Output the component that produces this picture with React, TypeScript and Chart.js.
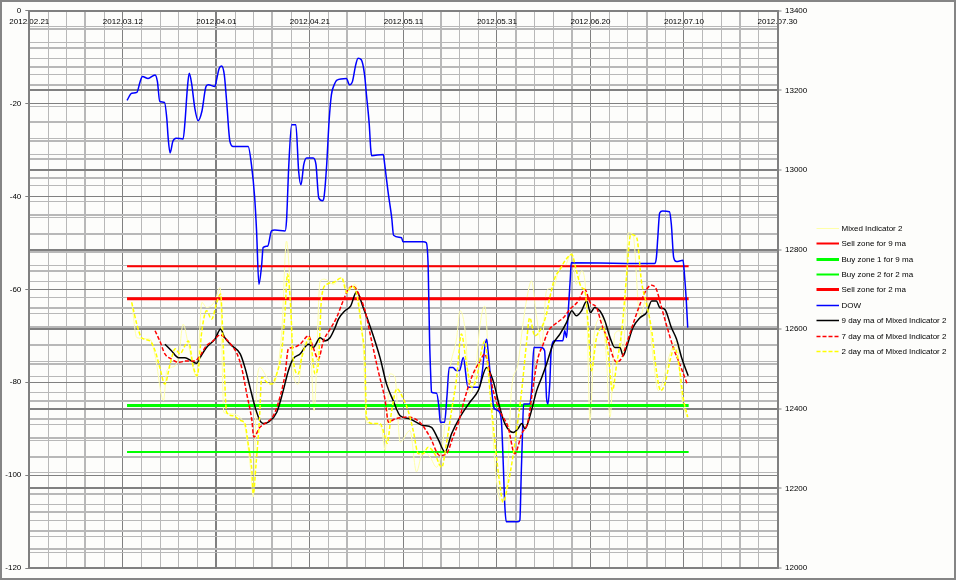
import React, { useEffect, useRef } from 'react';
import { Chart, registerables } from 'chart.js';

Chart.register(...registerables);

// x values are calendar days counted from 2012.02.21
const dateLabels = ['2012.02.21', '2012.03.12', '2012.04.01', '2012.04.21', '2012.05.11', '2012.05.31', '2012.06.20', '2012.07.10', '2012.07.30'];
const thickGridDays = [12, 40, 52, 68, 88, 104, 116, 132, 152];

const sellZone9 = -55;
const sellZone2 = -62;
const buyZone1 = -85;
const buyZone2 = -95;
const zoneDays = [20.9, 141.0];

const mixedDays = [21.9, 23.0, 25.8, 26.9, 28.7, 29.4, 30.4, 31.9, 32.9, 34.0,
  35.8, 36.9, 37.9, 39.7, 40.8, 41.6, 42.9, 45.8, 47.2, 47.9,
  48.6, 49.3, 50.8, 52.2, 54.0, 55.0, 55.7, 56.4, 57.5, 58.6,
  60.0, 60.9, 62.2, 63.2, 65.0, 66.8, 68.2, 69.6, 71.4, 72.1,
  73.5, 75.3, 76.1, 77.1, 78.2, 79.3, 81.4, 82.8, 84.2, 85.7,
  87.1, 88.5, 89.9, 91.4, 92.1, 93.2, 94.2, 95.3, 96.4, 97.4,
  98.5, 99.9, 101.0, 102.1, 103.1, 104.5, 105.3, 106.3, 107.4, 108.5,
  109.6, 110.6, 112.0, 113.5, 114.5, 116.0, 117.0, 118.1, 119.2, 119.9,
  120.9, 122.4, 123.4, 124.2, 125.2, 126.3, 127.0, 128.1, 129.1, 130.6,
  132.0, 133.4, 134.5, 135.5, 137.0, 138.4, 139.5, 140.6];
const mixedValues = [-62.8, -70.4, -70.7, -74.3, -83.9, -77.5, -76.8, -74.7, -67.5, -71.8,
  -78.9, -62.8, -63.9, -62.5, -59.6, -86.5, -86.8, -88.6, -97.5, -104.7,
  -81.8, -76.8, -78.9, -80.4, -68.9, -49.6, -58.2, -77.5, -80.4, -71.8,
  -71.1, -86.1, -58.2, -57.8, -58.9, -57.5, -60.3, -58.9, -72.5, -88.6,
  -88.9, -89.7, -94.7, -78.2, -78.9, -92.9, -90.4, -99.3, -94.7, -96.1,
  -98.3, -92.5, -77.5, -70.4, -64.6, -68.9, -82.5, -78.9, -67.5, -63.6,
  -81.8, -101.1, -105.8, -102.6, -81.8, -76.1, -69.6, -62.5, -58.2, -66.1,
  -71.8, -60.3, -59.6, -55.3, -55.0, -52.1, -58.9, -56.0, -63.9, -88.2,
  -68.9, -66.1, -74.7, -87.5, -69.6, -68.9, -74.7, -47.8, -48.2, -66.1,
  -61.8, -74.7, -81.8, -79.7, -73.9, -71.1, -83.2, -87.5];

const dowDays = [20.9, 21.9, 23.0, 23.7, 24.2, 25.4, 26.9, 27.4, 27.9, 28.9,
  29.4, 29.7, 30.1, 30.7, 31.4, 32.9, 33.3, 33.8, 34.2, 34.7,
  35.4, 36.1, 36.9, 37.8, 38.3, 39.7, 40.1, 40.6, 41.1, 41.7,
  42.2, 42.9, 43.6, 46.8, 47.5, 48.2, 48.6, 49.1, 49.7, 50.0,
  51.0, 51.8, 52.5, 54.7, 55.0, 55.5, 56.1, 57.0, 57.6, 58.1,
  58.7, 59.3, 60.7, 61.3, 61.9, 62.7, 63.0, 63.6, 64.1, 64.6,
  65.2, 65.8, 67.8, 68.5, 69.1, 69.8, 70.3, 71.0, 71.7, 72.1,
  72.7, 73.0, 73.2, 75.7, 76.0, 76.7, 77.5, 77.9, 79.6, 79.9,
  84.2, 84.9, 85.3, 85.6, 85.9, 86.0, 87.1, 87.6, 87.9, 88.8,
  89.3, 89.8, 90.6, 91.3, 92.0, 92.8, 93.8, 96.2, 96.9, 97.4,
  97.8, 98.1, 98.5, 99.2, 99.5, 100.6, 101.0, 101.3, 101.7, 102.0,
  104.5, 104.9, 105.2, 105.4, 105.7, 106.9, 107.4, 107.9, 109.5, 110.2,
  110.6, 110.9, 111.3, 111.6, 112.3, 114.1, 114.5, 114.9, 115.3, 115.7,
  115.9, 133.7, 134.1, 134.4, 134.8, 135.4, 136.9, 137.3, 137.8, 138.4,
  139.8, 140.1, 140.5, 140.8];
const dowValues = [13175, 13193, 13195, 13222, 13235, 13230, 13239, 13222, 13172, 13170,
  13130, 13080, 13043, 13072, 13080, 13078, 13122, 13205, 13243, 13218,
  13155, 13124, 13147, 13210, 13214, 13210, 13230, 13255, 13261, 13239,
  13172, 13072, 13059, 13059, 13014, 12930, 12847, 12713, 12763, 12805,
  12809, 12847, 12849, 12847, 12872, 13014, 13114, 13114, 12997, 12963,
  13014, 13030, 13030, 13014, 12930, 12923, 12930, 13014, 13122, 13189,
  13214, 13226, 13230, 13214, 13222, 13264, 13281, 13277, 13239, 13189,
  13114, 13055, 13036, 13039, 13014, 12947, 12880, 12836, 12830, 12820,
  12820, 12817, 12755, 12571, 12467, 12442, 12439, 12404, 12366, 12366,
  12429, 12504, 12504, 12496, 12496, 12529, 12454, 12454, 12496, 12554,
  12575, 12546, 12496, 12412, 12400, 12391, 12362, 12279, 12154, 12116,
  12116, 12120, 12237, 12312, 12412, 12412, 12446, 12554, 12554, 12546,
  12429, 12412, 12463, 12546, 12571, 12571, 12596, 12579, 12654, 12730,
  12767, 12765, 12780, 12830, 12892, 12897, 12895, 12863, 12780, 12770,
  12773, 12738, 12671, 12604];

const ma9Days = [29.0, 30.4, 31.9, 33.3, 34.7, 35.8, 36.5, 37.9, 39.7, 40.9,
  41.8, 43.3, 45.1, 46.1, 47.2, 48.3, 49.3, 50.0, 51.1, 52.9,
  54.3, 55.4, 56.4, 57.9, 59.7, 60.7, 62.2, 63.2, 64.3, 65.4,
  66.1, 67.5, 68.7, 70.0, 71.4, 73.2, 75.0, 76.4, 77.8, 79.3,
  81.4, 84.2, 86.0, 87.4, 88.9, 90.3, 92.1, 94.2, 96.0, 97.8,
  99.2, 100.6, 101.7, 103.5, 104.5, 105.3, 106.0, 107.0, 108.5, 109.6,
  110.6, 112.0, 113.5, 114.9, 116.0, 117.0, 118.1, 119.2, 120.0, 120.9,
  122.0, 123.1, 124.2, 125.2, 126.3, 127.0, 127.7, 129.1, 130.6, 132.0,
  133.1, 134.1, 134.8, 135.9, 137.3, 138.4, 139.5, 140.9];
const ma9Values = [-71.8, -73.2, -74.7, -74.7, -75.4, -75.9, -74.7, -72.5, -70.7, -68.6,
  -70.4, -72.1, -73.9, -76.8, -81.1, -85.4, -88.2, -88.9, -88.6, -86.5,
  -81.8, -77.5, -75.0, -73.9, -71.8, -72.5, -70.4, -71.1, -70.4, -68.2,
  -66.4, -64.6, -63.6, -60.5, -63.9, -68.9, -74.7, -80.4, -83.9, -87.2,
  -87.9, -89.3, -89.7, -92.2, -95.0, -91.1, -87.5, -84.3, -81.8, -76.8,
  -79.7, -85.4, -88.9, -90.8, -90.0, -88.9, -90.0, -87.5, -81.8, -78.9,
  -76.1, -71.8, -69.6, -67.1, -64.6, -65.7, -64.6, -62.5, -65.0, -63.9,
  -64.6, -66.8, -70.4, -72.5, -72.5, -74.3, -72.5, -68.2, -66.1, -65.0,
  -62.5, -62.5, -63.9, -64.3, -68.2, -70.7, -74.7, -78.6];

const ma7Days = [26.9, 27.9, 29.0, 30.4, 31.9, 33.7, 35.4, 36.5, 37.9, 39.3,
  40.8, 42.1, 43.3, 44.3, 45.4, 46.5, 47.6, 48.0, 49.3, 50.8,
  52.2, 53.6, 54.7, 55.4, 56.4, 57.9, 59.7, 60.7, 61.8, 62.9,
  64.3, 65.7, 67.1, 68.2, 69.3, 70.3, 71.8, 73.2, 74.6, 76.1,
  76.8, 78.2, 81.0, 83.5, 85.7, 87.8, 89.2, 90.7, 91.7, 93.2,
  94.6, 96.4, 97.4, 98.1, 99.2, 100.6, 102.4, 103.8, 105.3, 106.7,
  107.8, 108.8, 109.9, 111.0, 112.4, 114.2, 115.6, 117.4, 118.8, 119.9,
  121.3, 122.4, 123.8, 124.9, 125.6, 126.7, 127.7, 129.1, 130.6, 132.0,
  133.1, 134.1, 135.2, 136.3, 137.7, 139.1, 140.7];
const ma7Values = [-68.9, -71.1, -73.9, -75.0, -75.7, -75.4, -75.4, -74.3, -72.1, -71.1,
  -69.8, -70.7, -72.1, -73.6, -76.8, -82.5, -88.2, -91.8, -89.7, -88.6,
  -87.2, -83.2, -78.2, -72.8, -72.5, -71.8, -70.0, -72.5, -75.0, -71.1,
  -68.6, -66.1, -62.5, -60.0, -59.3, -60.7, -64.6, -71.1, -77.5, -83.9,
  -88.6, -87.9, -87.5, -88.6, -91.8, -95.8, -95.4, -91.5, -88.9, -83.2,
  -78.9, -75.4, -73.9, -76.1, -81.8, -86.1, -89.7, -95.4, -91.1, -88.2,
  -80.4, -74.7, -71.8, -68.9, -67.5, -66.1, -64.3, -62.5, -60.0, -62.8,
  -63.9, -67.5, -71.1, -74.7, -75.7, -74.7, -71.8, -67.5, -63.2, -60.0,
  -59.1, -60.0, -63.9, -67.8, -72.5, -76.1, -80.4];

const ma2Days = [21.9, 23.0, 24.0, 25.8, 26.9, 27.9, 29.0, 30.1, 31.2, 32.2,
  33.3, 34.0, 35.1, 35.9, 36.9, 37.9, 39.0, 40.1, 40.9, 41.5,
  42.2, 43.6, 45.1, 46.1, 46.8, 47.6, 47.9, 48.5, 49.2, 49.7,
  50.8, 51.8, 52.9, 54.0, 54.7, 55.2, 55.9, 56.4, 57.5, 58.2,
  58.9, 60.0, 61.1, 61.8, 62.5, 63.6, 65.0, 66.8, 67.9, 68.9,
  70.0, 71.1, 71.8, 72.1, 73.5, 75.0, 76.1, 76.5, 77.5, 78.6,
  80.0, 81.0, 82.1, 83.2, 84.2, 85.3, 86.7, 88.2, 89.2, 90.3,
  91.4, 92.4, 93.5, 94.6, 95.7, 96.7, 97.4, 98.5, 99.6, 100.6,
  101.3, 102.4, 103.4, 104.2, 105.3, 106.3, 107.0, 108.1, 109.2, 110.6,
  111.3, 112.4, 113.5, 114.5, 116.0, 117.0, 118.1, 118.8, 119.5, 120.2,
  121.3, 122.7, 123.8, 124.7, 125.6, 126.7, 127.7, 128.6, 129.9, 130.9,
  132.0, 133.1, 134.1, 135.0, 135.9, 137.0, 138.0, 139.1, 139.8, 140.8];
const ma2Values = [-62.8, -67.5, -70.4, -71.1, -73.2, -76.8, -80.4, -76.1, -72.8, -73.9,
  -72.1, -71.1, -76.8, -78.6, -68.9, -64.6, -66.4, -62.8, -61.0, -72.5,
  -86.5, -87.2, -88.2, -88.9, -93.2, -99.0, -104.0, -97.5, -88.2, -78.9,
  -80.0, -80.4, -78.2, -73.2, -64.6, -56.7, -63.9, -74.7, -78.2, -75.0,
  -72.5, -70.4, -78.2, -76.1, -61.8, -58.9, -58.5, -57.5, -60.7, -59.3,
  -61.0, -68.9, -76.1, -87.5, -88.9, -88.9, -91.8, -93.2, -86.1, -81.4,
  -83.6, -86.1, -90.4, -95.4, -95.4, -94.0, -95.4, -98.3, -93.2, -86.1,
  -78.9, -69.6, -76.1, -81.1, -78.9, -73.2, -71.1, -81.8, -93.2, -101.8,
  -105.8, -101.8, -96.1, -90.4, -81.8, -71.8, -66.1, -70.0, -68.9, -65.3,
  -61.8, -57.5, -55.7, -53.9, -52.5, -56.0, -59.6, -60.3, -67.5, -77.5,
  -70.4, -68.2, -73.9, -81.8, -76.1, -68.9, -57.5, -48.2, -48.9, -58.2,
  -63.2, -68.9, -77.5, -81.8, -80.4, -75.4, -72.5, -77.5, -83.2, -87.5];

const GRID_DARK = '#808080';
const GRID_LIGHT = '#B8B8B8';
const FONT_FAMILY = '"Liberation Sans", Arial, sans-serif';

function toPoints(days: number[], vals: number[]) {
  const n = Math.min(days.length, vals.length);
  const out: { x: number; y: number }[] = [];
  for (let i = 0; i < n; i++) out.push({ x: days[i], y: vals[i] });
  return out;
}

function zonePoints(level: number) {
  return zoneDays.map((d) => ({ x: d, y: level }));
}

const legendPlugin = {
  id: 'customLegend',
  afterDraw(chart: any) {
    const ctx = chart.ctx;
    ctx.save();
    ctx.font = '8px ' + FONT_FAMILY;
    ctx.textBaseline = 'middle';
    ctx.textAlign = 'left';
    chart.data.datasets.forEach((ds: any, i: number) => {
      const y = Math.round(225.7 + i * 15.4) + 0.5;
      ctx.beginPath();
      ctx.strokeStyle = ds.borderColor;
      ctx.lineWidth = ds.borderWidth;
      ctx.setLineDash(ds.borderDash || []);
      ctx.moveTo(814.5, y);
      ctx.lineTo(837, y);
      ctx.stroke();
      ctx.setLineDash([]);
      ctx.fillStyle = '#000000';
      ctx.fillText(ds.label, 839.5, y);
    });
    ctx.restore();
  },
};

export default function App() {
  const canvasRef = useRef<HTMLCanvasElement | null>(null);

  useEffect(() => {
    if (!canvasRef.current) return;
    const base = {
      pointRadius: 0,
      pointHoverRadius: 0,
      fill: false,
      cubicInterpolationMode: 'monotone' as const,
    };
    const chart = new Chart(canvasRef.current, {
      type: 'line',
      data: {
        datasets: [
          { ...base, label: 'Mixed Indicator 2', data: toPoints(mixedDays, mixedValues), borderColor: '#FFFFA8', borderWidth: 1, yAxisID: 'y', order: 9 },
          { ...base, label: 'Sell zone for 9 ma', data: zonePoints(sellZone9), borderColor: '#FF0000', borderWidth: 2, yAxisID: 'y', order: 8 },
          { ...base, label: 'Buy zone 1 for 9 ma', data: zonePoints(buyZone1), borderColor: '#00FF00', borderWidth: 3, yAxisID: 'y', order: 7 },
          { ...base, label: 'Buy zone 2 for 2 ma', data: zonePoints(buyZone2), borderColor: '#00FF00', borderWidth: 2, yAxisID: 'y', order: 6 },
          { ...base, label: 'Sell zone for 2 ma', data: zonePoints(sellZone2), borderColor: '#FF0000', borderWidth: 3, yAxisID: 'y', order: 5 },
          { ...base, label: 'DOW', data: toPoints(dowDays, dowValues), borderColor: '#0000FF', borderWidth: 1.5, yAxisID: 'y1', order: 4 },
          { ...base, label: '9 day ma of Mixed Indicator 2', data: toPoints(ma9Days, ma9Values), borderColor: '#000000', borderWidth: 1.5, yAxisID: 'y', order: 3 },
          { ...base, label: '7 day ma of Mixed Indicator 2', data: toPoints(ma7Days, ma7Values), borderColor: '#FF0000', borderWidth: 1.5, borderDash: [4, 2], yAxisID: 'y', order: 2 },
          { ...base, label: '2 day ma of Mixed Indicator 2', data: toPoints(ma2Days, ma2Values), borderColor: '#FFFF00', borderWidth: 1.5, borderDash: [4, 2], yAxisID: 'y', order: 1 },
        ] as any,
      },
      options: {
        animation: false,
        responsive: false,
        events: [],
        layout: { padding: { left: 0, right: 0, top: 0, bottom: 10 } },
        plugins: {
          legend: { display: false },
          tooltip: { enabled: false },
        },
        scales: {
          x: {
            type: 'linear',
            position: 'top',
            min: 0,
            max: 160,
            afterFit: (s: any) => { s.height = 7; },
            ticks: {
              stepSize: 4,
              autoSkip: false,
              maxRotation: 0,
              minRotation: 0,
              mirror: true,
              padding: 6,
              color: '#000000',
              font: { family: FONT_FAMILY, size: 8 },
              callback: (v: any) => {
                const n = Math.round(Number(v));
                return n % 20 === 0 ? dateLabels[n / 20] : '';
              },
            },
            grid: {
              drawTicks: false,
              color: (c: any) => {
                const n = Math.round(c.tick ? c.tick.value : 0);
                return n % 20 === 0 ? GRID_DARK : GRID_LIGHT;
              },
              lineWidth: (c: any) => {
                const n = Math.round(c.tick ? c.tick.value : 0);
                return thickGridDays.includes(n) ? 2 : 1;
              },
            },
            border: { display: true, color: GRID_DARK, width: 2 },
          },
          y: {
            type: 'linear',
            position: 'left',
            min: -120,
            max: 0,
            afterFit: (s: any) => { s.width = 27.3; },
            ticks: {
              stepSize: 4,
              maxTicksLimit: 1000,
              autoSkip: false,
              padding: 4,
              color: '#000000',
              font: { family: FONT_FAMILY, size: 8 },
              callback: (v: any) => {
                const n = Math.round(Number(v));
                return n % 20 === 0 ? String(n) : '';
              },
            },
            grid: {
              tickLength: 4,
              color: (c: any) => {
                const n = Math.round(c.tick ? c.tick.value : 0);
                return n % 20 === 0 ? GRID_DARK : GRID_LIGHT;
              },
              lineWidth: (c: any) => {
                const n = Math.round(c.tick ? c.tick.value : 0);
                return n % 20 === 0 ? 1 : 2;
              },
              tickColor: (c: any) => {
                const n = Math.round(c.tick ? c.tick.value : 0);
                return n % 20 === 0 ? GRID_DARK : 'rgba(0,0,0,0)';
              },
              tickWidth: 1,
            },
            border: { display: true, color: GRID_DARK, width: 2 },
          },
          y1: {
            type: 'linear',
            position: 'right',
            min: 12000,
            max: 13400,
            afterFit: (s: any) => { s.width = 176.5; },
            ticks: {
              stepSize: 40,
              maxTicksLimit: 1000,
              autoSkip: false,
              padding: 3.5,
              color: '#000000',
              font: { family: FONT_FAMILY, size: 8 },
              callback: (v: any) => {
                const n = Math.round(Number(v));
                return n % 200 === 0 ? String(n) : '';
              },
            },
            grid: {
              tickLength: 4,
              color: (c: any) => {
                const n = Math.round(c.tick ? c.tick.value : 0);
                return n % 200 === 0 ? GRID_DARK : GRID_LIGHT;
              },
              lineWidth: (c: any) => {
                const n = Math.round(c.tick ? c.tick.value : 0);
                return n % 200 === 0 ? 2 : 1;
              },
              tickColor: (c: any) => {
                const n = Math.round(c.tick ? c.tick.value : 0);
                return n % 200 === 0 ? GRID_DARK : 'rgba(0,0,0,0)';
              },
              tickWidth: 1,
            },
            border: { display: true, color: GRID_DARK, width: 2 },
          },
        },
      } as any,
      plugins: [legendPlugin],
    });
    return () => chart.destroy();
  }, []);

  return (
    <div
      style={{
        position: 'absolute',
        left: 0,
        top: 0,
        width: 956,
        height: 580,
        boxSizing: 'border-box',
        border: '2px solid #858585',
        background: '#FDFDFB',
      }}
    >
      <canvas ref={canvasRef} width={952} height={576} style={{ display: 'block', width: 952, height: 576 }} />
    </div>
  );
}
